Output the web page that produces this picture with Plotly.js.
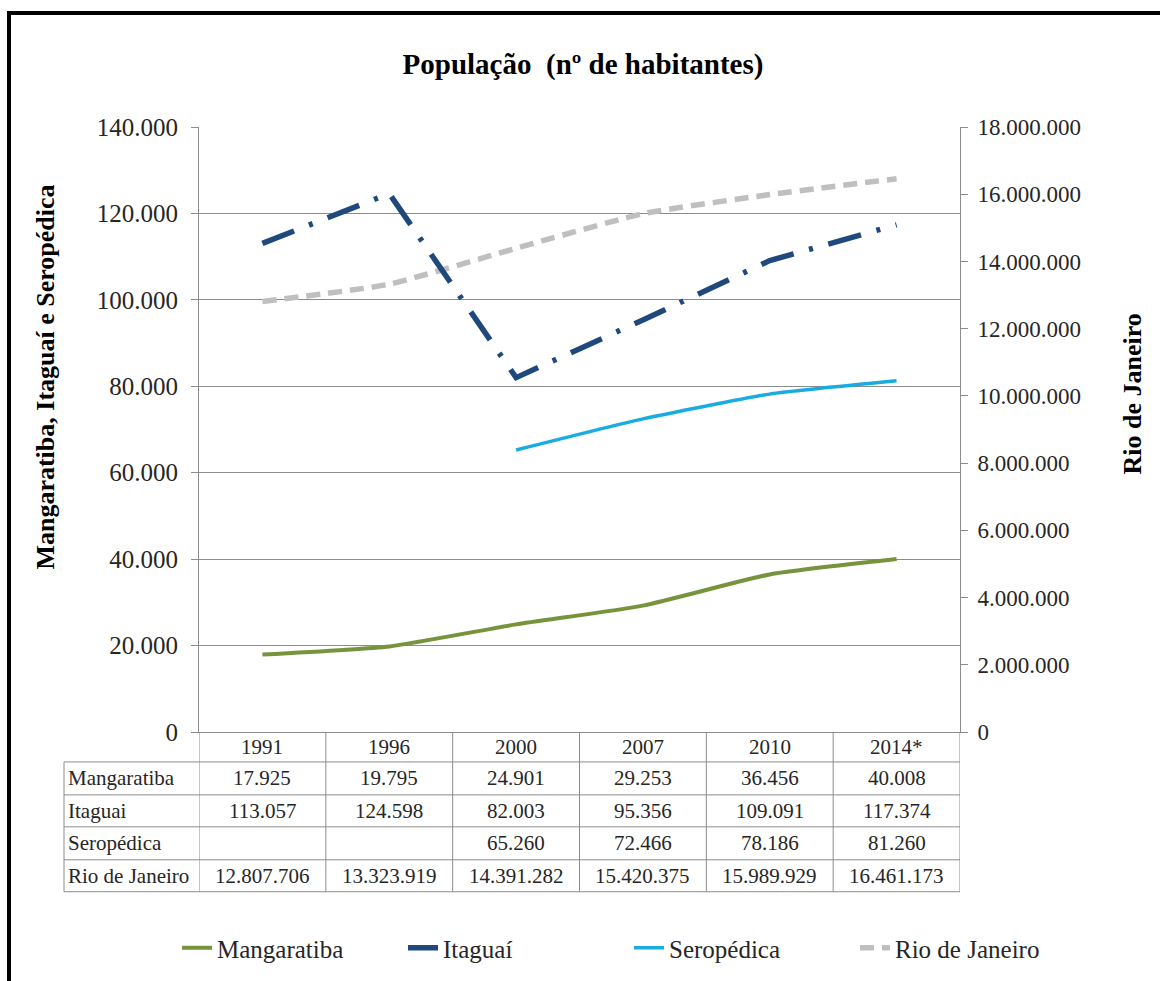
<!DOCTYPE html>
<html>
<head>
<meta charset="utf-8">
<script src="https://cdn.plot.ly/plotly-3.0.1.min.js"></script>
<style>
  html, body { margin: 0; padding: 0; background: #fff; }
  #wrap { position: relative; width: 1160px; height: 981px; overflow: hidden; }
  #chart { width: 1160px; height: 981px; }
  #frame { position: absolute; left: 7px; top: 11px; width: 1200px; height: 1100px;
           border-top: 4px solid #000; border-left: 4px solid #000; pointer-events: none; }
</style>
</head>
<body>
<div id="wrap"><div id="chart"></div><div id="frame"></div></div>
<script>
// ---- data ----
const years = ["1991", "1996", "2000", "2007", "2010", "2014*"];
const mangaratiba = [17925, 19795, 24901, 29253, 36456, 40008];
const itaguai = [113057, 124598, 82003, 95356, 109091, 117374];
const seropedica = [null, null, 65260, 72466, 78186, 81260];
const rioDeJaneiro = [12807706, 13323919, 14391282, 15420375, 15989929, 16461173];
const seriesNames = ["Mangaratiba", "Itaguaí", "Seropédica", "Rio de Janeiro"];
const tableRowLabels = ["Mangaratiba", "Itaguai", "Seropédica", "Rio de Janeiro"];

// ---- helpers ----
const fmt = v => (v === null || v === undefined) ? "" : String(v).replace(/\B(?=(\d{3})+(?!\d))/g, ".");
const PLOT_TOP = 127, PLOT_BOTTOM = 733, PLOT_LEFT = 199, PLOT_RIGHT = 960;
const H = PLOT_BOTTOM - PLOT_TOP, W = PLOT_RIGHT - PLOT_LEFT;
const py = Y => (PLOT_BOTTOM - Y) / H;
const px = X => (X - PLOT_LEFT) / W;
const serif = "Liberation Serif";
const idx = years.map((_, i) => i);

const traces = [
  { x: idx, y: mangaratiba, name: seriesNames[0], yaxis: "y2", type: "scatter", mode: "lines",
    line: { color: "#77933C", width: 4, shape: "spline", smoothing: 0.5 } },
  { x: idx, y: itaguai, name: seriesNames[1], yaxis: "y2", type: "scatter", mode: "lines",
    line: { color: "#1F497D", width: 5.5, dash: "34px,16px,4px,16px" } },
  { x: idx, y: seropedica, name: seriesNames[2], yaxis: "y2", type: "scatter", mode: "lines",
    line: { color: "#1AACE0", width: 3.5, shape: "spline", smoothing: 0.5 } },
  { x: idx, y: rioDeJaneiro, name: seriesNames[3], yaxis: "y", type: "scatter", mode: "lines",
    line: { color: "#BFBFBF", width: 5.5, dash: "14px,8px", shape: "spline", smoothing: 0.5 } }
];

// ---- data table (shapes + annotations) ----
const lineCol = "#8C8C8C";
const shapes = [];
const annotations = [];
const rowEdges = [733, 763, 796, 828, 861, 893];
for (let r = 1; r < rowEdges.length; r++) {
  shapes.push({ type: "line", xref: "paper", yref: "paper", x0: px(64), x1: 1, y0: py(rowEdges[r]), y1: py(rowEdges[r]),
    line: { color: lineCol, width: 1 } });
}
for (let i = 0; i <= years.length; i++) {
  shapes.push({ type: "line", xref: "x", yref: "paper", x0: i - 0.5, x1: i - 0.5, y0: py(733), y1: py(893),
    line: { color: lineCol, width: 1 } });
}
shapes.push({ type: "line", xref: "paper", yref: "paper", x0: px(64), x1: px(64), y0: py(763), y1: py(893),
  line: { color: lineCol, width: 1 } });

const tableFont = { family: serif, size: 21, color: "#262626" };
const rowCenters = [748, 779.5, 812, 844.5, 877];
years.forEach((yr, i) => {
  annotations.push({ xref: "x", yref: "paper", x: i, y: py(rowCenters[0]), text: yr, showarrow: false,
    font: tableFont, xanchor: "center", yanchor: "middle" });
});
const tableSeries = [mangaratiba, itaguai, seropedica, rioDeJaneiro];
tableSeries.forEach((s, r) => {
  annotations.push({ xref: "paper", yref: "paper", x: px(66), y: py(rowCenters[r + 1]), text: tableRowLabels[r],
    showarrow: false, font: tableFont, xanchor: "left", yanchor: "middle" });
  s.forEach((v, i) => {
    annotations.push({ xref: "x", yref: "paper", x: i, y: py(rowCenters[r + 1]), text: fmt(v), showarrow: false,
      font: tableFont, xanchor: "center", yanchor: "middle" });
  });
});
annotations.push({ xref: "paper", yref: "paper", x: px(46), y: py(378), text: "<b>Mangaratiba, Itaguaí e Seropédica</b>",
  textangle: -90, showarrow: false, font: { family: serif, size: 26, color: "#000" }, xanchor: "center", yanchor: "middle" });
annotations.push({ xref: "paper", yref: "paper", x: px(1133), y: py(395), text: "<b>Rio de Janeiro</b>",
  textangle: -90, showarrow: false, font: { family: serif, size: 26, color: "#000" }, xanchor: "center", yanchor: "middle" });

const layout = {
  width: 1160, height: 981,
  margin: { l: PLOT_LEFT, r: 1160 - PLOT_RIGHT, t: PLOT_TOP, b: 981 - PLOT_BOTTOM, pad: 0 },
  paper_bgcolor: "#fff", plot_bgcolor: "#fff",
  separators: ",.",
  font: { family: serif, color: "#262626" },
  title: { text: "<b>População  (nº de habitantes)</b>", x: 583 / 1160, xref: "container", xanchor: "center",
    y: 1 - 64 / 981, yref: "container", yanchor: "middle", font: { family: serif, size: 29, color: "#000" } },
  showlegend: true,
  legend: { orientation: "h", x: px(177), xanchor: "left", y: py(948), yanchor: "middle",
    entrywidth: 181, entrywidthmode: "pixels",
    font: { family: serif, size: 25, color: "#262626" }, bgcolor: "rgba(0,0,0,0)" },
  xaxis: { type: "linear", range: [-0.5, years.length - 0.5], showgrid: false, zeroline: false,
    showticklabels: false, ticks: "", showline: true, linecolor: lineCol, linewidth: 1, fixedrange: true },
  yaxis: { side: "right", range: [0, 18000000], dtick: 2000000, tickformat: ",.0f", showgrid: false, zeroline: false,
    showline: true, linecolor: lineCol, linewidth: 1, ticks: "outside", ticklen: 7, tickcolor: lineCol,
    ticklabelstandoff: 5,
    tickfont: { family: serif, size: 23, color: "#262626" } },
  yaxis2: { overlaying: "y", side: "left", range: [0, 140000], dtick: 20000, tickformat: ",.0f",
    showgrid: true, gridcolor: "#8C8C8C", gridwidth: 1, zeroline: false,
    showline: true, linecolor: lineCol, linewidth: 1, ticks: "outside", ticklen: 7, tickcolor: lineCol,
    ticklabelstandoff: 8,
    tickfont: { family: serif, size: 25, color: "#262626" } },
  shapes: shapes,
  annotations: annotations
};

Plotly.newPlot("chart", traces, layout, { displayModeBar: false, staticPlot: true });
</script>
</body>
</html>
